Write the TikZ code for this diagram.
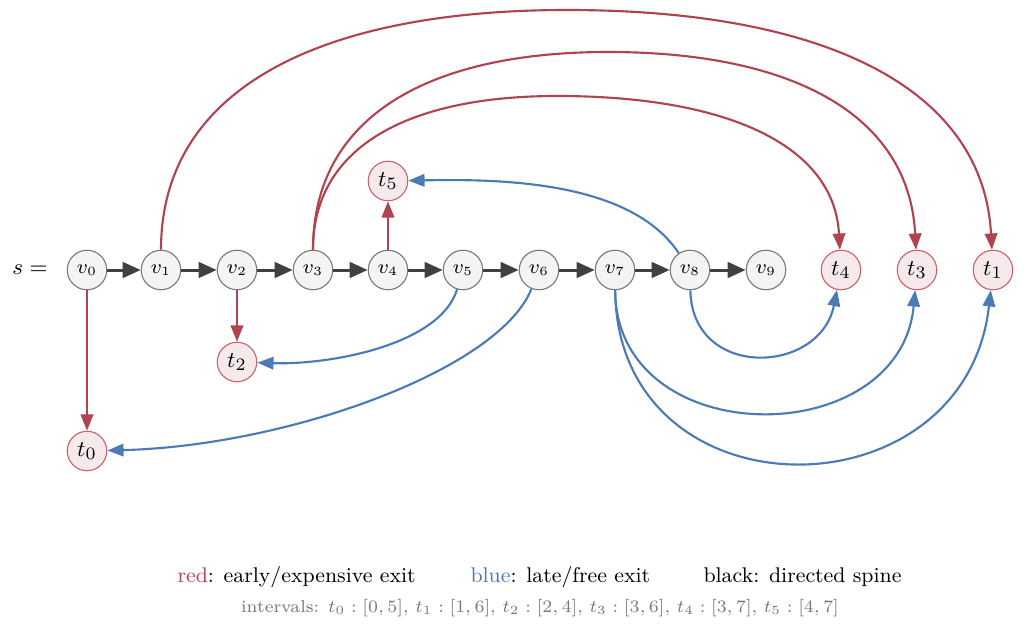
\documentclass[tikz,border=0pt]{standalone}
\usetikzlibrary{arrows.meta}
\definecolor{ered}{HTML}{B0434F}
\definecolor{eblue}{HTML}{4A7BB7}
\definecolor{tfill}{HTML}{F6E9EB}
\definecolor{tborder}{HTML}{C9646F}
\definecolor{vfill}{HTML}{F4F4F4}
\definecolor{vborder}{HTML}{7A7A7A}
\definecolor{spinec}{HTML}{404040}
\definecolor{intgray}{HTML}{777777}
\begin{document}
\begin{tikzpicture}[x=0.4pt,y=0.4pt,
  vnode/.style={circle,draw=vborder,fill=vfill,line width=0.45pt,minimum size=15.8pt,inner sep=0pt,font=\fontsize{7.7}{9}\selectfont},
  tnode/.style={circle,draw=tborder,fill=tfill,line width=0.45pt,minimum size=15.8pt,inner sep=0pt,font=\fontsize{9.5}{11}\selectfont},
  spine/.style={draw=spinec,line width=1.2pt,-{Triangle[length=7.2pt,width=6.2pt]}},
  redarr/.style={draw=ered,line width=0.85pt,-{Triangle[length=6.5pt,width=5pt]}},
  bluearr/.style={draw=eblue,line width=0.85pt,-{Triangle[length=6.5pt,width=5pt]}},
  legend/.style={anchor=base west,inner sep=0pt,font=\fontsize{8.5}{10.2}\selectfont}]
\useasboundingbox (0,0) rectangle (1024,-632);

\node[font=\fontsize{8.75}{10.5}\selectfont] (s) at (30,-270) {$s =$};
\foreach \i/\x in {0/87,1/161,2/237,3/313,4/388,5/463,6/539,7/615,8/690,9/766}
  \node[vnode] (v\i) at (\x,-270) {$v_{\i}$};
\node[tnode] (t4) at (841,-270) {$t_4$};
\node[tnode] (t3) at (917,-270) {$t_3$};
\node[tnode] (t1) at (993,-270) {$t_1$};
\node[tnode] (t5) at (388,-181) {$t_5$};
\node[tnode] (t2) at (237,-362) {$t_2$};
\node[tnode] (t0) at (87,-451) {$t_0$};

\foreach \a/\b in {0/1,1/2,2/3,3/4,4/5,5/6,6/7,7/8,8/9}
  \draw[spine] (v\a) -- (v\b);

% peaks of the long red arcs
\coordinate (pk1) at (567,-10);
\coordinate (pk3) at (608,-52);
\coordinate (pk4) at (557,-96);

% red exits
\draw[redarr] (v0) -- (t0);
\draw[redarr] (v2) -- (t2);
\draw[redarr] (v4) -- (t5);
\draw[redarr] (v1) .. controls +(0,183) and +(-244,0) .. (pk1)
                   .. controls +(256,0) and +(-10,183) .. (t1);
\draw[redarr] (v3) .. controls +(0,155) and +(-177,0) .. (pk3)
                   .. controls +(185,0) and +(-8,155) .. (t3);
\draw[redarr] (v3) .. controls +(0,125) and +(-146,0) .. (pk4)
                   .. controls +(170,0) and +(-7,125) .. (t4);

% blue exits
\draw[bluearr] (v8) .. controls +(-60,90) and +(110,2) .. (t5);
\draw[bluearr] (v5) .. controls +(-23,-75) and +(93,-3) .. (t2);
\draw[bluearr] (v6) .. controls +(-40,-100) and +(200,5) .. (t0);
\draw[bluearr] (v8) .. controls +(2,-110) and +(-21,-105) .. (t4);
\draw[bluearr] (v7) .. controls +(1,-183) and +(-17,-183) .. (t3);
\draw[bluearr] (v7) .. controls +(2,-250) and +(-28,-250) .. (t1);

% legend
\node[legend] (l1) at (177,-582) {\textcolor{ered}{red}: early/expensive exit};
\node[legend] (l2) at (470,-582) {\textcolor{eblue}{blue}: late/free exit};
\node[legend] (l3) at (703,-582) {black: directed spine};
\node[anchor=base,inner sep=0pt,text=intgray,font=\fontsize{6.9}{8.3}\selectfont] (iv) at (540,-612)
  {intervals: $t_0 : [0,5]$, $t_1 : [1,6]$, $t_2 : [2,4]$, $t_3 : [3,6]$, $t_4 : [3,7]$, $t_5 : [4,7]$};
\end{tikzpicture}
\end{document}
